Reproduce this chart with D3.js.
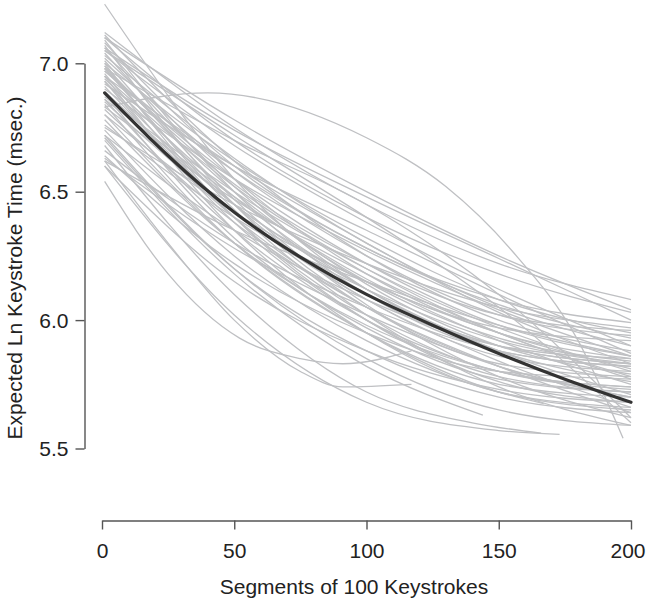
<!DOCTYPE html>
<html>
<head>
<meta charset="utf-8">
<script src="https://cdn.jsdelivr.net/npm/d3@7"></script>
<style>
  html, body { margin: 0; padding: 0; background: #fff; }
  svg { display: block; }
  text { font-family: "Liberation Sans", Arial, sans-serif; }
</style>
</head>
<body>
<svg id="chart" width="646" height="602"></svg>
<script>
// ---------------- data ----------------
const xTicks = [0, 50, 100, 150, 200];
const yTicks = [5.5, 6.0, 6.5, 7.0];
const xTitle = "Segments of 100 Keystrokes";
const yTitle = "Expected Ln Keystroke Time (msec.)";

// individual curves sampled at these segments
const gridX = [1, 50, 100, 150, 200];
const subjectCurves = [
  [7.12, 6.75, 6.45, 6.22, 6.08],
  [7.10, 6.70, 6.40, 6.18, 6.03],
  [7.11, 6.62, 6.25, 6.00, 5.88],
  [7.08, 6.60, 6.28, 6.08, 5.99],
  [7.06, 6.55, 6.18, 5.95, 5.85],
  [7.09, 6.50, 6.10, 5.88, 5.82],
  [7.05, 6.68, 6.38, 6.12, 5.90],
  [7.07, 6.45, 6.05, 5.83, 5.78],
  [7.23, 6.55, 6.12, 5.90, 5.83],
  [7.10, 6.78, 6.50, 6.25, 6.04],
  [7.06, 6.74, 6.48, 6.24, 6.00],
  [7.02, 6.58, 6.25, 6.02, 5.94],
  [7.00, 6.62, 6.32, 6.08, 5.95],
  [6.99, 6.50, 6.15, 5.93, 5.84],
  [6.98, 6.45, 6.08, 5.86, 5.80],
  [6.97, 6.55, 6.22, 5.98, 5.86],
  [6.96, 6.40, 6.02, 5.80, 5.74],
  [6.95, 6.52, 6.20, 5.95, 5.78],
  [6.94, 6.48, 6.12, 5.88, 5.76],
  [6.93, 6.38, 6.00, 5.78, 5.72],
  [6.92, 6.60, 6.35, 6.10, 5.87],
  [7.01, 6.47, 6.06, 5.78, 5.62],
  [6.95, 6.35, 5.95, 5.72, 5.66],
  [6.98, 6.53, 6.22, 6.02, 5.96],
  [6.91, 6.42, 6.10, 5.90, 5.83],
  [6.99, 6.43, 6.02, 5.74, 5.59],
  [6.89, 6.45, 6.12, 5.88, 5.71],
  [6.88, 6.40, 6.05, 5.82, 5.70],
  [6.87, 6.50, 6.20, 5.97, 5.80],
  [6.86, 6.35, 6.00, 5.80, 5.73],
  [6.85, 6.42, 6.08, 5.84, 5.66],
  [6.84, 6.30, 5.95, 5.75, 5.70],
  [6.83, 6.47, 6.18, 5.95, 5.77],
  [6.82, 6.38, 6.05, 5.82, 5.64],
  [6.78, 6.30, 5.98, 5.80, 5.74],
  [6.76, 6.40, 6.12, 5.92, 5.83],
  [6.74, 6.25, 5.92, 5.72, 5.65],
  [6.72, 6.35, 6.08, 5.90, 5.85],
  [6.71, 6.20, 5.88, 5.70, 5.64],
  [6.75, 6.45, 6.22, 6.05, 5.97],
  [6.66, 6.30, 6.05, 5.88, 5.82],
  [6.64, 6.22, 5.95, 5.80, 5.77],
  [6.62, 6.35, 6.15, 5.98, 5.86],
  [6.60, 6.15, 5.88, 5.73, 5.68],
  [6.63, 6.28, 6.02, 5.82, 5.70],
  [7.03, 6.63, 6.30, 6.05, 5.90],
  [6.97, 6.58, 6.28, 6.06, 5.93],
  [6.90, 6.55, 6.27, 6.04, 5.86],
  [6.93, 6.45, 6.15, 5.97, 5.92],
  [6.86, 6.48, 6.16, 5.92, 5.75],
  [7.00, 6.40, 6.00, 5.76, 5.68],
  [6.80, 6.42, 6.15, 5.95, 5.81],
  [7.04, 6.52, 6.14, 5.90, 5.79],
  [6.88, 6.32, 5.97, 5.77, 5.72],
  [6.95, 6.60, 6.30, 6.03, 5.83],
  [6.98, 6.70, 6.45, 6.10, 5.62],
  [7.05, 6.72, 6.40, 6.05, 5.60],
  [6.72, 6.20, 5.85, 5.65, 5.59]
];

// curves that do not span the full range (own segment positions)
const partialX = [
  [1, 25, 52, 75, 91, 117],
  [1, 25, 50, 75, 91, 117],
  [1, 50, 100, 140, 166],
  [1, 50, 100, 150, 173],
  [1, 50, 100, 144],
  [1, 50, 100, 150, 167],
  [1, 40, 100, 130, 155, 180, 197]
];
const partialY = [
  [6.54, 6.18, 5.93, 5.85, 5.83, 5.88],
  [6.62, 6.30, 6.00, 5.80, 5.74, 5.75],
  [6.68, 6.10, 5.72, 5.60, 5.56],
  [6.60, 6.02, 5.68, 5.57, 5.555],
  [6.70, 6.18, 5.82, 5.63],
  [6.80, 6.30, 5.95, 5.72, 5.675],
  [6.83, 6.885, 6.71, 6.52, 6.27, 5.92, 5.54]
];

// average (fixed-effect) curve
const meanX = [1, 25, 50, 75, 100, 125, 150, 175, 200];
const meanY = [6.885, 6.64, 6.42, 6.245, 6.10, 5.98, 5.87, 5.77, 5.68];

// ---------------- chart ----------------
const svg = d3.select("#chart");
const x = d3.scaleLinear().domain([0, 200]).range([102, 631]);
const y = d3.scaleLinear().domain([5.5, 7.0]).range([448.5, 63.3]);

const line = d3.line()
  .x(d => x(d[0]))
  .y(d => y(d[1]))
  .curve(d3.curveMonotoneX);

const gCurves = svg.append("g");

const allCurves = subjectCurves.map(vals => vals.map((v, i) => [gridX[i], v]))
  .concat(partialX.map((xs, k) => xs.map((xv, i) => [xv, partialY[k][i]])));

gCurves.selectAll("path.subj")
  .data(allCurves)
  .join("path")
  .attr("class", "subj")
  .attr("d", line)
  .attr("fill", "none")
  .attr("stroke", "#bfc0c3")
  .attr("stroke-width", 1.3);

svg.append("path")
  .datum(meanX.map((xv, i) => [xv, meanY[i]]))
  .attr("d", line.curve(d3.curveNatural))
  .attr("fill", "none")
  .attr("stroke", "#333333")
  .attr("stroke-width", 3.2)
  .attr("stroke-linecap", "round");

// axes
const yAxis = d3.axisLeft(y)
  .tickValues(yTicks)
  .tickFormat(d3.format(".1f"))
  .tickSize(9)
  .tickSizeOuter(0)
  .tickPadding(7);
const gy = svg.append("g").attr("transform", "translate(84.5,0)").call(yAxis);

const xAxis = d3.axisBottom(x)
  .tickValues(xTicks)
  .tickFormat(d3.format("d"))
  .tickSize(9)
  .tickSizeOuter(0)
  .tickPadding(14);
const gx = svg.append("g").attr("transform", "translate(0,520.5)").call(xAxis);

[gx, gy].forEach(g => {
  g.select(".domain").attr("stroke", "#555").attr("stroke-width", 1.4);
  g.selectAll(".tick line").attr("stroke", "#555").attr("stroke-width", 1.4);
  g.selectAll(".tick text")
    .attr("fill", "#222")
    .style("font-size", "21px")
    .style("font-family", "'Liberation Sans', Arial, sans-serif");
});
gy.selectAll(".tick text").attr("dy", "0.34em");
// keep the last x label inside the page (it sits at the right edge)
gx.selectAll(".tick text")
  .filter(d => d === xTicks[xTicks.length - 1])
  .attr("text-anchor", "end")
  .attr("x", 645 - x(xTicks[xTicks.length - 1]));

svg.append("text")
  .attr("x", 354)
  .attr("y", 594)
  .attr("text-anchor", "middle")
  .attr("fill", "#222")
  .style("font-size", "21px")
  .text(xTitle);

svg.append("text")
  .attr("transform", "translate(22,268) rotate(-90)")
  .attr("text-anchor", "middle")
  .attr("fill", "#222")
  .style("font-size", "21px")
  .text(yTitle);
</script>
</body>
</html>
